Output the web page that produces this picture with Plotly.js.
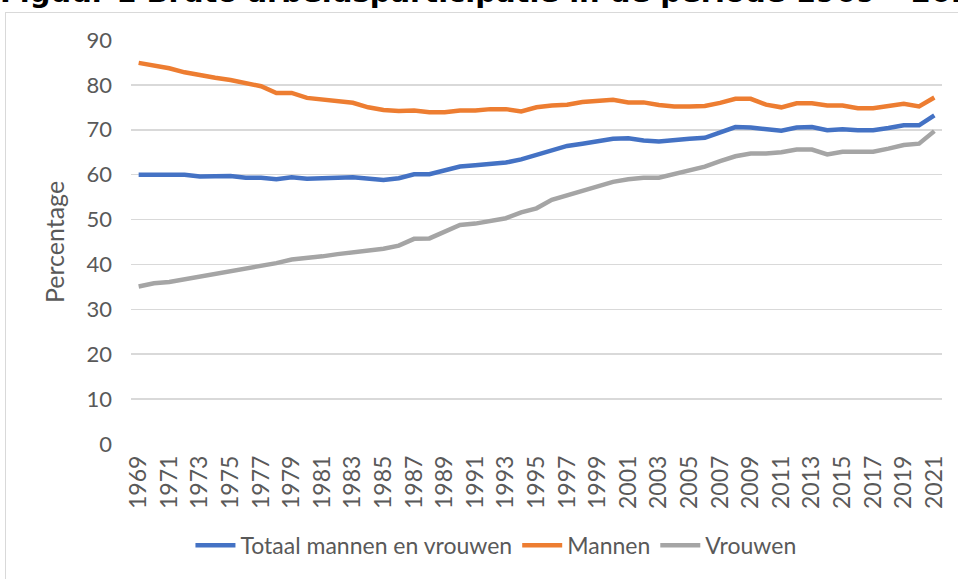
<!DOCTYPE html>
<html>
<head>
<meta charset="utf-8">
<script src="https://cdn.plot.ly/plotly-3.0.1.min.js"></script>
<style>
  html, body { margin: 0; padding: 0; background: #ffffff; overflow: hidden; }
  #chart { width: 958px; height: 579px; }
  #frame { position: absolute; left: 5px; top: 12px; width: 1000px; height: 600px;
           border: 1px solid #d9d9d9; pointer-events: none; }
</style>
</head>
<body>
<div id="chart"></div>
<div id="frame"></div>
<script>
const years = [1969,1970,1971,1972,1973,1974,1975,1976,1977,1978,1979,1980,1981,1982,1983,1984,1985,1986,1987,1988,1989,1990,1991,1992,1993,1994,1995,1996,1997,1998,1999,2000,2001,2002,2003,2004,2005,2006,2007,2008,2009,2010,2011,2012,2013,2014,2015,2016,2017,2018,2019,2020,2021];

const totaal = [60.0,60.0,60.0,60.0,59.6,59.6,59.7,59.3,59.3,59.0,59.4,59.1,59.1,59.3,59.4,59.1,58.8,59.2,60.1,60.1,61.0,61.8,62.1,62.3,62.7,63.4,64.4,65.4,66.4,66.9,67.5,68.0,68.1,67.6,67.4,67.8,68.0,68.2,69.4,70.6,70.5,70.2,69.8,70.5,70.6,69.9,70.1,69.9,69.9,70.4,71.0,71.0,73.2];

const mannen = [84.9,84.3,83.7,82.8,82.1,81.6,81.1,80.5,79.7,78.2,78.2,77.1,76.8,76.3,76.0,75.0,74.4,74.2,74.3,73.9,73.9,74.3,74.3,74.6,74.6,74.1,75.0,75.4,75.6,76.2,76.5,76.7,76.1,76.1,75.5,75.2,75.2,75.3,76.0,76.9,76.9,75.6,75.0,75.9,75.9,75.4,75.4,74.8,74.8,75.4,75.8,75.2,77.2];

const vrouwen = [35.1,35.8,36.1,36.7,37.3,37.9,38.5,39.0,39.6,40.3,41.1,41.4,41.8,42.3,42.7,43.0,43.5,44.2,45.7,45.8,47.3,48.8,49.1,49.7,50.3,51.6,52.5,54.4,55.4,56.6,57.5,58.4,59.0,59.3,59.3,60.2,61.0,61.8,63.0,64.1,64.7,64.7,65.0,65.6,65.6,64.5,65.1,65.1,65.1,65.8,66.6,66.9,69.7];

const seriesNames = ["Totaal mannen en vrouwen", "Mannen", "Vrouwen"];
const seriesColors = ["#4472C4", "#ED7D31", "#A5A5A5"];
const tickYears = years.filter((y, i) => i % 2 === 0);
const titleText = "Figuur 1 Bruto arbeidsparticipatie in de periode 1969 – 2021";

const FONT = "Lato, 'Liberation Sans', sans-serif";
const TXT = "#595959";

const traces = [totaal, mannen, vrouwen].map((vals, k) => ({
  type: "scatter",
  mode: "lines",
  x: years,
  y: vals,
  name: seriesNames[k],
  line: { color: seriesColors[k], width: 4.5, shape: "linear" },
  hoverinfo: "x+y+name"
}));

const layout = {
  width: 958,
  height: 579,
  margin: { l: 131, r: 16, t: 40, b: 133 },
  paper_bgcolor: "rgba(0,0,0,0)",
  plot_bgcolor: "rgba(0,0,0,0)",
  font: { family: FONT, color: TXT, size: 22 },
  showlegend: true,
  legend: {
    orientation: "h",
    x: 0.45, xanchor: "center",
    y: -0.251, yanchor: "middle",
    font: { family: FONT, size: 23, color: TXT },
    itemwidth: 40,
    tracegroupgap: 0
  },
  xaxis: {
    type: "linear",
    range: [1968.5, 2021.5],
    tickmode: "array",
    tickvals: tickYears,
    ticktext: tickYears.map(String),
    tickangle: -90,
    tickfont: { family: FONT, size: 23, color: TXT },
    showgrid: false,
    zeroline: false,
    showline: false,
    ticks: "",
    ticklabelstandoff: 6,
    fixedrange: true
  },
  yaxis: {
    range: [0, 90],
    tickmode: "linear",
    tick0: 0,
    dtick: 10,
    tickfont: { family: FONT, size: 22, color: TXT },
    showgrid: true,
    gridcolor: "#d9d9d9",
    gridwidth: 1.5,
    zeroline: false,
    showline: false,
    ticks: "",
    ticklabelstandoff: 18,
    title: { text: "Percentage", font: { family: FONT, size: 25, color: TXT }, standoff: 14 },
    fixedrange: true
  },
  annotations: [{
    text: "<b>" + titleText + "</b>",
    xref: "paper", yref: "paper",
    x: 0, y: 1,
    xanchor: "left", yanchor: "middle",
    xshift: -133, yshift: 48,
    showarrow: false,
    font: { family: "'DejaVu Sans', sans-serif", size: 29, color: "#000000" }
  }]
};

Plotly.newPlot("chart", traces, layout, { displayModeBar: false, staticPlot: true });
</script>
</body>
</html>
